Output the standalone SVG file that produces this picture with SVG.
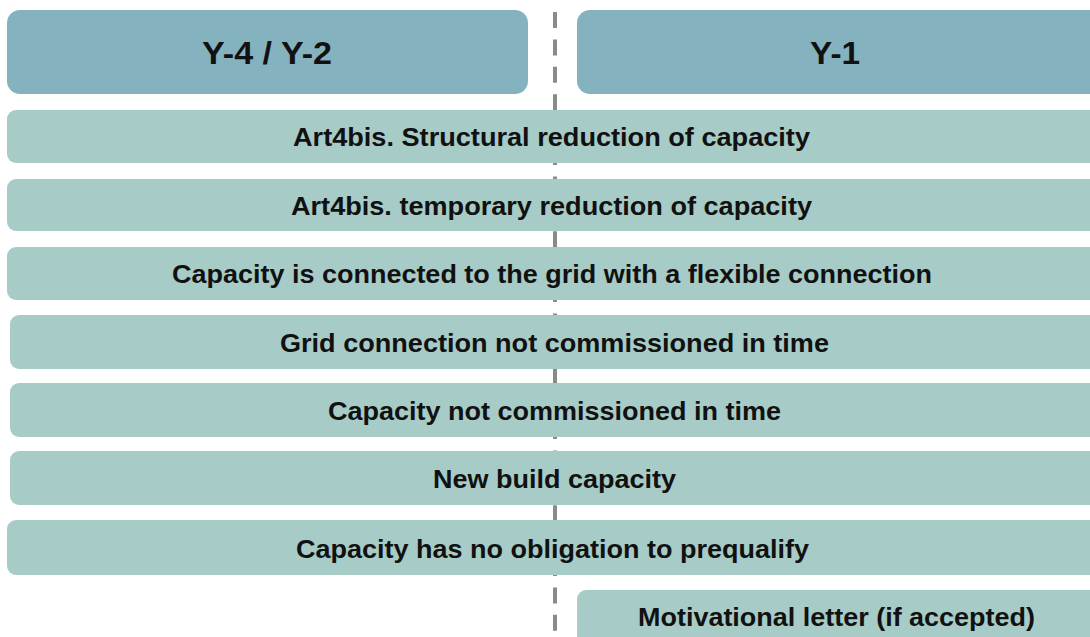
<svg xmlns="http://www.w3.org/2000/svg" width="1090" height="637" viewBox="0 0 1090 637">
<style>
.hdr{fill:#85B2BF}
.row{fill:#A7CBC6}
.ht{font-family:"Liberation Sans",Arial,sans-serif;font-weight:bold;font-size:32px;fill:#111;text-anchor:middle}
.rt{font-family:"Liberation Sans",Arial,sans-serif;font-weight:bold;font-size:25px;fill:#111;text-anchor:middle}
</style>
<rect width="1090" height="637" fill="#fff"/>
<g id="connectors">
<line x1="555" y1="12" x2="555" y2="637" stroke="#8a8a8a" stroke-width="4" stroke-dasharray="16 11.4"/>
</g>
<g id="hdr-left"><rect class="hdr" x="7" y="10" width="521" height="84" rx="13"/><text class="ht" x="267" y="64" textLength="130" lengthAdjust="spacingAndGlyphs">Y-4 / Y-2</text></g>
<g id="hdr-right"><rect class="hdr" x="577" y="10" width="530" height="84" rx="13"/><text class="ht" x="835" y="64" textLength="50" lengthAdjust="spacingAndGlyphs">Y-1</text></g>
<g id="row1"><rect class="row" x="7" y="110" width="1100" height="53" rx="9"/><text class="rt" x="551.5" y="145.5" textLength="517" lengthAdjust="spacingAndGlyphs">Art4bis. Structural reduction of capacity</text></g>
<g id="row2"><rect class="row" x="7" y="179" width="1100" height="52" rx="9"/><text class="rt" x="551.5" y="214.5" textLength="521" lengthAdjust="spacingAndGlyphs">Art4bis. temporary reduction of capacity</text></g>
<g id="row3"><rect class="row" x="7" y="247" width="1100" height="53" rx="9"/><text class="rt" x="552" y="282.5" textLength="760" lengthAdjust="spacingAndGlyphs">Capacity is connected to the grid with a flexible connection</text></g>
<g id="row4"><rect class="row" x="10" y="315" width="1100" height="54" rx="9"/><text class="rt" x="554.5" y="351.5" textLength="549" lengthAdjust="spacingAndGlyphs">Grid connection not commissioned in time</text></g>
<g id="row5"><rect class="row" x="10" y="383" width="1100" height="54" rx="9"/><text class="rt" x="554.5" y="419.5" textLength="453" lengthAdjust="spacingAndGlyphs">Capacity not commissioned in time</text></g>
<g id="row6"><rect class="row" x="10" y="451" width="1100" height="54" rx="9"/><text class="rt" x="554.5" y="487.5" textLength="243" lengthAdjust="spacingAndGlyphs">New build capacity</text></g>
<g id="row7"><rect class="row" x="7" y="520" width="1100" height="55" rx="9"/><text class="rt" x="552.5" y="557.5" textLength="513" lengthAdjust="spacingAndGlyphs">Capacity has no obligation to prequalify</text></g>
<g id="row8"><rect class="row" x="577" y="590" width="530" height="60" rx="9"/><text class="rt" x="836.5" y="626" textLength="397" lengthAdjust="spacingAndGlyphs">Motivational letter (if accepted)</text></g>
</svg>
